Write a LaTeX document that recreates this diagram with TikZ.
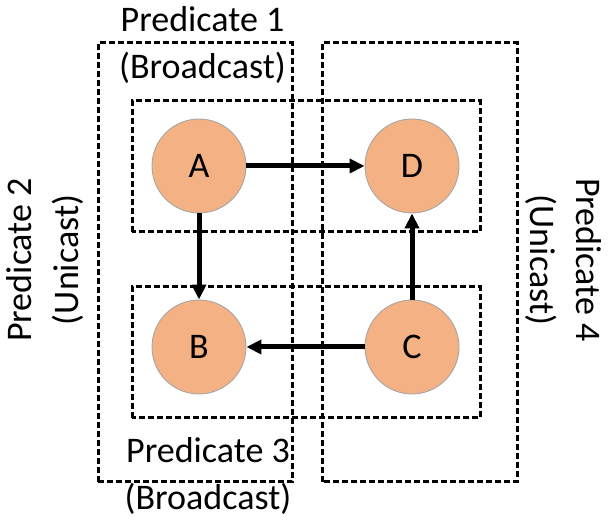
\documentclass[tikz,border=0pt]{standalone}
\usepackage{fontspec}
\setmainfont{Carlito}
\usepackage{xcolor}
\usetikzlibrary{arrows.meta,positioning,calc}
\definecolor{nodeorange}{HTML}{F4B183}
\definecolor{nodeedge}{HTML}{A5A5A5}
\tikzset{
  vtx/.style={circle,draw=nodeedge,line width=0.5pt,fill=nodeorange,
              minimum size=1.88cm,inner sep=0pt,font=\fontsize{20.5pt}{24pt}\selectfont},
  grp/.style={draw,line width=0.06cm,dash pattern=on 0.12cm off 0.06cm},
  lbl/.style={align=center,inner sep=0pt,font=\fontsize{20.5pt}{26.4pt}\selectfont},
  ar/.style={-{Triangle[length=0.30cm,width=0.28cm]},line width=0.10cm}
}

\begin{document}
\begin{tikzpicture}
  \useasboundingbox (0,0) rectangle (12.2,10.52);
  % predicate groups
  \draw[grp] (1.96,0.88) rectangle (5.84,9.66);
  \draw[grp] (6.44,0.88) rectangle (10.34,9.66);
  \draw[grp] (2.64,5.88) rectangle (9.60,8.50);
  \draw[grp] (2.64,2.16) rectangle (9.60,4.78);

  \node[vtx] (a) at (3.98,7.20) {A};
  \node[vtx] (d) at (8.24,7.20) {D};
  \node[vtx] (b) at (3.98,3.58) {B};
  \node[vtx] (c) at (8.24,3.58) {C};
  \draw[ar] (a) -- (d);
  \draw[ar] (a) -- (b);
  \draw[ar] (c) -- (d);
  \draw[ar] (c) -- (b);

  \node[lbl] (p1) at (4.05,9.62) {Predicate 1\\(Broadcast)};
  \node[lbl] (p3) at (4.16,1.00) {Predicate 3\\(Broadcast)};
  \node[lbl,rotate=90]  (p2) at (0.90,5.32) {Predicate 2\\(Unicast)};
  \node[lbl,rotate=-90] (p4) at (11.27,5.32) {Predicate 4\\(Unicast)};
\end{tikzpicture}
\end{document}
